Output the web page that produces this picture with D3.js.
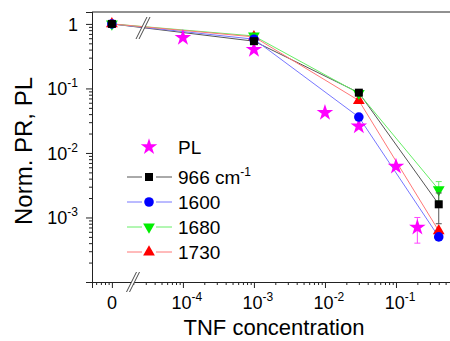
<!DOCTYPE html>
<html>
<head>
<meta charset="utf-8">
<script src="https://d3js.org/d3.v7.min.js"></script>
<style>
  body { margin: 0; background: #fff; }
  text { font-family: Arial, "Liberation Sans", sans-serif; fill: #000; }
</style>
</head>
<body>
<svg id="chart" width="450" height="341"></svg>
<script>
// concentrations; 0 is drawn at the 1e-5 slot, left of the axis break
var conc = [0, 1e-3, 0.03, 0.4];
var s966  = [1, 0.54, 0.086, 0.0016];
var e966  = [0, 0.04, 0.005, 0.0008];
var s1600 = [1, 0.58, 0.036, 0.0005];
var s1680 = [1, 0.65, 0.084, 0.0027];
var e1680 = [0, 0.03, 0.005, 0.0009];
var s1730 = [1, 0.63, 0.065, 0.00062];

var plConc = [1e-4, 1e-3, 1e-2, 0.03, 0.1, 0.2];
var plVal  = [0.61, 0.40, 0.042, 0.026, 0.0062, 0.0007];
var plErr  = [0, 0, 0, 0, 0, 0.0003];

var xTickVals = [1e-5, 1e-4, 1e-3, 1e-2, 1e-1];
var xTickText = [["0", ""], ["10", "-4"], ["10", "-3"], ["10", "-2"], ["10", "-1"]];
var yTickVals = [1, 1e-1, 1e-2, 1e-3];
var yTickText = [["1", ""], ["10", "-1"], ["10", "-2"], ["10", "-3"]];

var svg = d3.select("#chart");
var L = 92, T = 12, B = 282, R = 467;

var x = d3.scaleLog().domain([Math.pow(10, -5.28), 1]).range([L, R]);
var y = d3.scaleLog().domain([1e-4, 1.53]).range([B, T]);
var xp = function(c){ return x(c === 0 ? 1e-5 : c); };

// top frame line
svg.append("line").attr("x1", L).attr("x2", R).attr("y1", T).attr("y2", T)
  .attr("stroke", "#222").attr("stroke-width", 1);

// minor ticks
var xMinor = [], yMinor = [];
for (var d = -6; d <= -1; d++) for (var k = 2; k <= 9; k++) {
  var v = k * Math.pow(10, d);
  if (x(v) >= L && x(v) <= R) xMinor.push(v);
}
for (var d = -4; d <= -1; d++) for (var k = 2; k <= 9; k++) yMinor.push(k * Math.pow(10, d));

var gx = svg.append("g").attr("transform", "translate(0," + B + ")");
gx.call(d3.axisBottom(x).tickValues(xMinor).tickSize(3).tickFormat(""));
gx.call(g => g.append("g").call(d3.axisBottom(x).tickValues(xTickVals).tickSize(6).tickFormat("")));
gx.selectAll("path.domain").attr("stroke", "#222");
gx.selectAll("line").attr("stroke", "#222");

var gy = svg.append("g").attr("transform", "translate(" + L + ",0)");
gy.call(d3.axisLeft(y).tickValues(yMinor).tickSize(3).tickFormat(""));
gy.call(g => g.append("g").call(d3.axisLeft(y).tickValues(yTickVals).tickSize(6).tickFormat("")));
gy.selectAll("path.domain").attr("stroke", "#222");
gy.selectAll("line").attr("stroke", "#222");

// tick labels with superscripts
xTickVals.forEach(function(v, i){
  var t = svg.append("text").attr("y", 309).attr("font-size", 18)
    .attr("text-anchor", "middle").attr("x", x(v) + (xTickText[i][1] ? 4 : 0));
  t.append("tspan").text(xTickText[i][0]);
  if (xTickText[i][1]) t.append("tspan").attr("dy", -8).attr("font-size", 12).text(xTickText[i][1]);
});
yTickVals.forEach(function(v, i){
  var t = svg.append("text").attr("y", y(v) + 7).attr("font-size", 18)
    .attr("text-anchor", "end").attr("x", 78);
  t.append("tspan").text(yTickText[i][0]);
  if (yTickText[i][1]) t.append("tspan").attr("dy", -8).attr("font-size", 12).text(yTickText[i][1]);
});

// axis titles
svg.append("text").attr("x", 274).attr("y", 335).attr("font-size", 22)
  .attr("text-anchor", "middle").text("TNF concentration");
svg.append("text").attr("transform", "translate(32,151) rotate(-90)").attr("font-size", 24)
  .attr("text-anchor", "middle").text("Norm. PR, PL");

// axis break mark
function brk(cx, cy, h) {
  var g = svg.append("g");
  g.append("polygon")
    .attr("points", [[cx - h*0.25 - 1.5, cy + h/2], [cx - h*0.25 + 1.5, cy + h/2],
                     [cx + h*0.25 + 1.5, cy - h/2], [cx + h*0.25 - 1.5, cy - h/2]].join(" "))
    .attr("fill", "#fff");
  [-1.5, 1.5].forEach(function(o){
    g.append("line").attr("x1", cx - h*0.25 + o).attr("y1", cy + h/2)
      .attr("x2", cx + h*0.25 + o).attr("y2", cy - h/2)
      .attr("stroke", "#333").attr("stroke-width", 0.9);
  });
}
brk(133, 282, 20);

var series = [
  {v: s966,  e: e966, col: "#000", line: "#555", sym: d3.symbolSquare, size: 64, rot: 0},
  {v: s1600, e: null, col: "#0000ff", line: "#7777ff", sym: d3.symbolCircle, size: 72, rot: 0},
  {v: s1680, e: e1680, col: "#00ee00", line: "#66ee66", sym: d3.symbolTriangle, size: 60, rot: 180},
  {v: s1730, e: null, col: "#ff0000", line: "#ff7777", sym: d3.symbolTriangle, size: 60, rot: 0}
];
var line = d3.line().x(function(d){ return xp(d[0]); }).y(function(d){ return y(d[1]); });

series.forEach(function(s){
  svg.append("path").datum(conc.map(function(c, i){ return [c, s.v[i]]; }))
    .attr("d", line).attr("fill", "none").attr("stroke", s.line).attr("stroke-width", 1);
});

// break mark over the lines
brk(143, 28, 22);

function errBar(cx, v, e, col) {
  if (!e) return;
  var y1 = y(v + e), y2 = y(v - e);
  svg.append("line").attr("x1", cx).attr("x2", cx).attr("y1", y1).attr("y2", y2).attr("stroke", col).attr("stroke-width", 1);
  [y1, y2].forEach(function(yy){
    svg.append("line").attr("x1", cx - 3).attr("x2", cx + 3).attr("y1", yy).attr("y2", yy).attr("stroke", col).attr("stroke-width", 1);
  });
}

// PL stars
plConc.forEach(function(c, i){ errBar(x(c), plVal[i], plErr[i], "#ff44ff"); });
svg.selectAll(".pl").data(plConc).enter().append("path").attr("class", "pl")
  .attr("d", d3.symbol().type(d3.symbolStar).size(85))
  .attr("transform", function(c, i){ return "translate(" + x(c) + "," + y(plVal[i]) + ")"; })
  .attr("fill", "#ff00ff");

// series markers, black on top
[3, 2, 1, 0].forEach(function(si){
  var s = series[si];
  conc.forEach(function(c, i){
    if (s.e) errBar(xp(c), s.v[i], s.e[i], s.line);
    svg.append("path").attr("d", d3.symbol().type(s.sym).size(s.size))
      .attr("transform", "translate(" + xp(c) + "," + y(s.v[i]) + ") rotate(" + s.rot + ")")
      .attr("fill", s.col);
  });
});

// legend
var lx = 149, ly = [147, 177, 202, 227, 252];
svg.append("path").attr("d", d3.symbol().type(d3.symbolStar).size(85))
  .attr("transform", "translate(" + lx + "," + ly[0] + ")").attr("fill", "#ff00ff");
svg.append("text").attr("x", 178).attr("y", ly[0] + 7).attr("font-size", 19).text("PL");
var labels = [["966 cm", "-1"], ["1600", ""], ["1680", ""], ["1730", ""]];
series.forEach(function(s, i){
  var yy = ly[i + 1];
  [[127, 142], [156, 172]].forEach(function(seg){
    svg.append("line").attr("x1", seg[0]).attr("x2", seg[1]).attr("y1", yy).attr("y2", yy)
      .attr("stroke", s.line).attr("stroke-width", 1);
  });
  svg.append("path").attr("d", d3.symbol().type(s.sym).size(s.size))
    .attr("transform", "translate(" + lx + "," + yy + ") rotate(" + s.rot + ")").attr("fill", s.col);
  var t = svg.append("text").attr("x", 178).attr("y", yy + 7).attr("font-size", 19);
  t.append("tspan").text(labels[i][0]);
  if (labels[i][1]) t.append("tspan").attr("dy", -8).attr("font-size", 12).text(labels[i][1]);
});
</script>
</body>
</html>
